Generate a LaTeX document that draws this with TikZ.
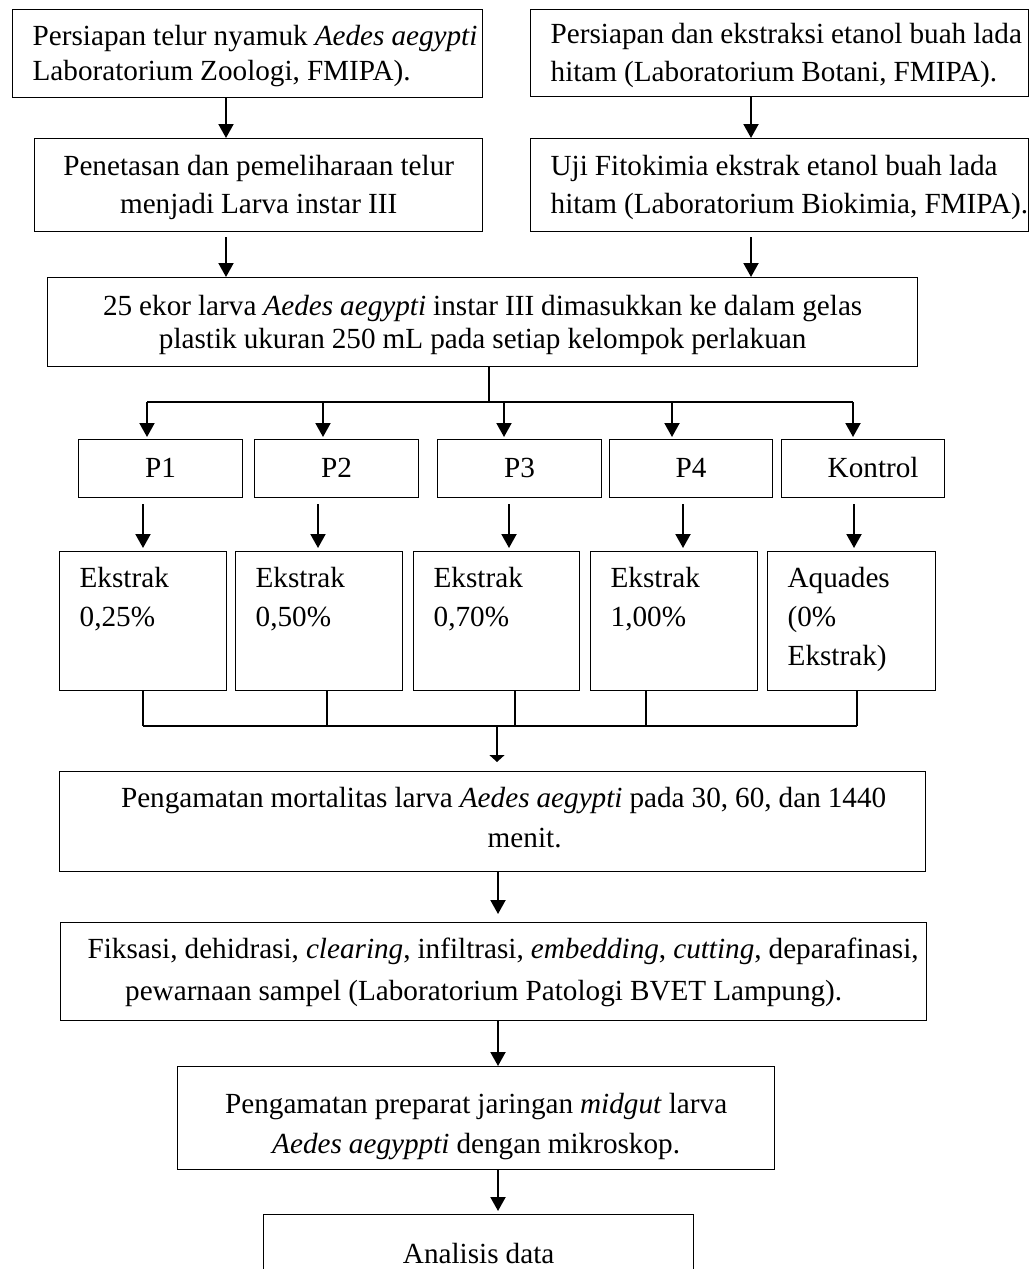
\documentclass[tikz,border=0pt]{standalone}
\usepackage{fontspec}
\setmainfont{Liberation Serif}
\usetikzlibrary{arrows.meta}
\newcommand{\wordgap}{\spaceskip=0.24em\xspaceskip=0.24em\relax}

\tikzset{
  box/.style={draw, line width=0.65pt, inner sep=0pt, anchor=north west, execute at begin node=\wordgap},
  lbox/.style={box, align=left, inner xsep=10pt},
  cbox/.style={box, align=center, inner xsep=2pt},
  pbox/.style={box, text height=19pt, text depth=10pt},
  ebox/.style={lbox, lead=19.5pt, text height=18pt, text depth=51.5pt},
  lead/.style={font=\fontsize{14.6}{#1}\selectfont},
  arr/.style={line width=1pt, -{Triangle[length=7pt,width=7.5pt]}},
  small arr/.style={line width=0.65pt, -{Triangle[length=3.5pt,width=7.5pt]}},
  drop/.style={arr, shorten <=3pt, shorten >=1.5pt},
  bar/.style={line width=1pt},
  link/.style={line width=0.65pt}
}

\begin{document}
\begin{tikzpicture}[x=0.5pt,y=-0.5pt,lead=19pt]
        \useasboundingbox (0,0) rectangle (1035,1269);
        \clip (0,0) rectangle (1035,1269);
        % top two columns
        \node[lbox, lead=17.5pt, text width=215pt, text height=18pt, text depth=26pt] (telur) at (12,9)
          {\mbox{Persiapan telur nyamuk \textit{Aedes aegypti}}\\Laboratorium Zoologi, FMIPA).};
        \node[lbox, lead=19pt, text width=229pt, text height=17pt, text depth=26.5pt] (ekstraksi) at (530,9)
          {\mbox{Persiapan dan ekstraksi etanol buah lada}\\\mbox{hitam (Laboratorium Botani, FMIPA).}};
        \node[cbox, lead=19pt, text width=220pt, text height=18.5pt, text depth=28pt] (penetasan) at (34,138)
          {Penetasan dan pemeliharaan telur\\menjadi Larva instar III};
        \node[lbox, lead=19pt, text width=229pt, text height=18.5pt, text depth=28pt] (fitokimia) at (530,138)
          {\mbox{Uji Fitokimia ekstrak etanol buah lada}\\\mbox{hitam (Laboratorium Biokimia, FMIPA).}};
        \node[cbox, lead=16.5pt, text width=431pt, text height=19pt, text depth=25.5pt] (larva) at (47,277)
          {25 ekor larva \textit{Aedes aegypti} instar III dimasukkan ke dalam gelas\\plastik ukuran 250 mL pada setiap kelompok perlakuan};
        % treatment groups
        \node[pbox, minimum width=82pt] (p1) at (78,439) {P1};
        \node[pbox, minimum width=82pt] (p2) at (254,439) {P2};
        \node[pbox, minimum width=82pt] (p3) at (437,439) {P3};
        \node[pbox, minimum width=81.5pt] (p4) at (609,439) {P4};
        \node[pbox, minimum width=81.5pt] (p5) at (781,439) {\hspace*{10pt}Kontrol};
        \node[ebox, text width=63.5pt] (e1) at (59,551) {Ekstrak\\0,25\%};
        \node[ebox, text width=63.5pt] (e2) at (235,551) {Ekstrak\\0,50\%};
        \node[ebox, text width=63pt] (e3) at (413,551) {Ekstrak\\0,70\%};
        \node[ebox, text width=63.5pt] (e4) at (590,551) {Ekstrak\\1,00\%};
        \node[ebox, text width=64pt] (e5) at (767,551) {Aquades\\(0\%\\Ekstrak)};
        % lower steps
        \node[cbox, lead=20pt, text width=429pt, text height=18pt, text depth=32pt] (mortalitas) at (59,771)
          {\hspace*{11pt}Pengamatan mortalitas larva \textit{Aedes aegypti} pada 30, 60, dan 1440\\\hspace*{32pt}menit.};
        \node[cbox, inner xsep=1pt, lead=21pt, text width=431pt, text height=18pt, text depth=31pt] (fiksasi) at (60,922)
          {\mbox{\hspace*{9.5pt}Fiksasi, dehidrasi, \textit{clearing}, infiltrasi, \textit{embedding}, \textit{cutting}, deparafinasi,}\\\hspace*{-10pt}pewarnaan sampel (Laboratorium Patologi BVET Lampung).};
        \node[cbox, lead=20pt, text width=294.5pt, text height=23.5pt, text depth=28pt] (preparat) at (177,1066)
          {Pengamatan preparat jaringan \textit{midgut} larva\\\textit{Aedes aegyppti} dengan mikroskop.};
        \node[box, minimum width=215pt, text height=24.5pt, text depth=25.5pt] (analisis) at (263,1214) {Analisis data};

        \coordinate (colL) at (226,0);
        \coordinate (colR) at (751,0);
        \coordinate (colM) at (498,0);
        \coordinate (fork) at (489,402);
        \coordinate (t1) at (147,402);
        \coordinate (t2) at (323,402);
        \coordinate (t3) at (504,402);
        \coordinate (t4) at (672,402);
        \coordinate (t5) at (853,402);
        \coordinate (j1) at (143,726);
        \coordinate (j2) at (327,726);
        \coordinate (j3) at (515,726);
        \coordinate (j4) at (646,726);
        \coordinate (j5) at (857,726);
        \coordinate (join) at (497,726);

        \draw[arr] (telur.south -| colL) -- (penetasan.north -| colL);
        \draw[arr] (ekstraksi.south -| colR) -- (fitokimia.north -| colR);
        \draw[arr, shorten <=2.5pt] (penetasan.south -| colL) -- (larva.north -| colL);
        \draw[arr, shorten <=2.5pt] (fitokimia.south -| colR) -- (larva.north -| colR);
        \draw[bar] (larva.south -| fork) -- (fork);
        \draw[bar] (t1) -- (t5);
        \draw[arr, shorten >=1pt] (t1) -- (p1.north -| t1);
        \draw[arr, shorten >=1pt] (t2) -- (p2.north -| t2);
        \draw[arr, shorten >=1pt] (t3) -- (p3.north -| t3);
        \draw[arr, shorten >=1pt] (t4) -- (p4.north -| t4);
        \draw[arr, shorten >=1pt] (t5) -- (p5.north -| t5);
        \draw[drop] (p1.south -| 143,0) -- (e1.north -| 143,0);
        \draw[drop] (p2.south -| 318,0) -- (e2.north -| 318,0);
        \draw[drop] (p3.south -| 509,0) -- (e3.north -| 509,0);
        \draw[drop] (p4.south -| 683,0) -- (e4.north -| 683,0);
        \draw[drop] (p5.south -| 854,0) -- (e5.north -| 854,0);
        \draw[link] (e1.south -| j1) -- (j1);
        \draw[link] (e2.south -| j2) -- (j2);
        \draw[link] (e3.south -| j3) -- (j3);
        \draw[link] (e4.south -| j4) -- (j4);
        \draw[link] (e5.south -| j5) -- (j5);
        \draw[link] (j1) -- (j5);
        \draw[small arr, shorten >=4.5pt] (join) -- (mortalitas.north -| join);
        \draw[arr, shorten >=4pt] (mortalitas.south -| colM) -- (fiksasi.north -| colM);
        \draw[arr] (fiksasi.south -| colM) -- (preparat.north -| colM);
        \draw[arr, shorten >=1.5pt] (preparat.south -| colM) -- (analisis.north -| colM);
\end{tikzpicture}
\end{document}
